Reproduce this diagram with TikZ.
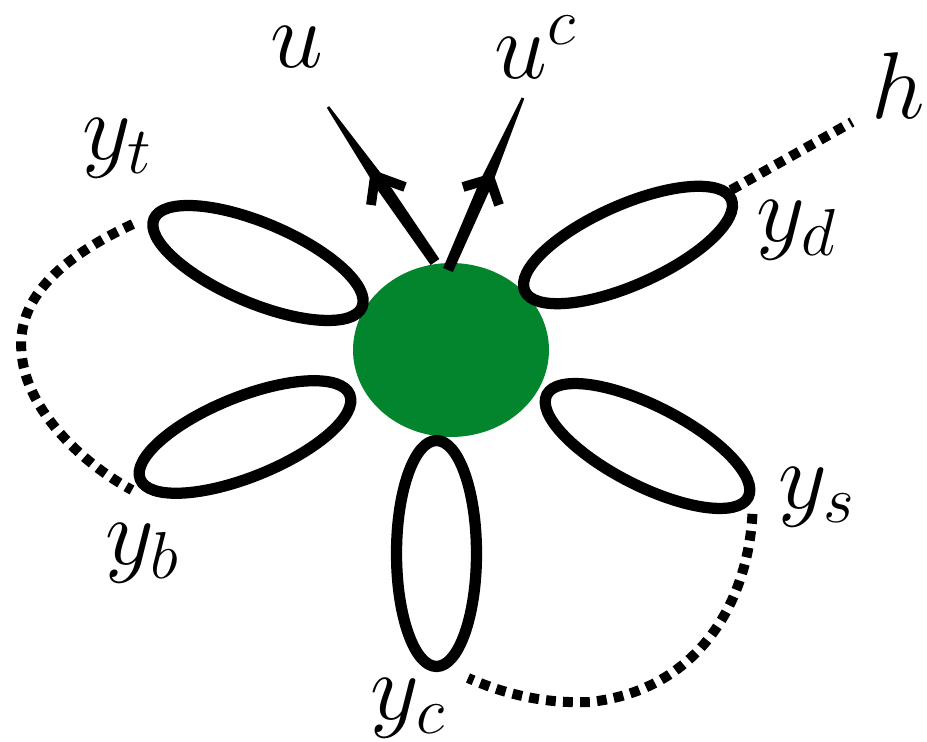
\RequirePackage{fix-cm}
\documentclass[tikz,border=0pt]{standalone}
\usetikzlibrary{shapes.geometric,calc}
\definecolor{gcol}{RGB}{3,133,46}
\tikzset{
  petal/.style={draw, fill=white, ellipse, line width=6.4pt, minimum width=4.52cm, minimum height=1.6cm, inner sep=0pt},
  dots/.style={line width=5.7pt, dash pattern=on 5.6pt off 4.1pt},
  lbl/.style={font=\fontsize{54}{60}\selectfont, inner sep=2pt},
  barb/.style={line width=5.6pt, line join=miter, miter limit=10},
}
\begin{document}
\begin{tikzpicture}[x=0.02cm, y=-0.02cm]
\useasboundingbox (0,0) rectangle (927,742);
% centre
\node[fill=gcol, ellipse, minimum width=3.92cm, minimum height=3.48cm, inner sep=0pt] (g) at (451,350) {};
% petals
\node[petal, rotate=-23] (yt) at (258,263) {};
\node[petal, rotate=22] (yb) at (245,437) {};
\node[petal, rotate=90] (yc) at (436.5,553.5) {};
\node[petal, rotate=-27] (ys) at (647.5,446) {};
\node[petal, rotate=24] (yd) at (628,245) {};
% arrows
\coordinate (ub) at (435,262);
\coordinate (ut) at (328,107);
\coordinate (cb) at (448,270);
\coordinate (ct) at (523,98);
\coordinate (um) at ($(ub)!0.5!(ut)$);
\coordinate (cm) at ($(cb)!0.5!(ct)$);
\fill ($(ub)!3pt!90:(ut)$) -- ($(um)!3.6pt!-90:(ub)$) -- ($(ut)!0.8pt!-90:(ub)$) -- ($(ut)!0.8pt!90:(ub)$) -- ($(um)!3.6pt!90:(ub)$) -- ($(ub)!3pt!-90:(ut)$) -- cycle;
\fill ($(cb)!3pt!90:(ct)$) -- ($(cm)!3.6pt!-90:(cb)$) -- ($(ct)!0.8pt!-90:(cb)$) -- ($(ct)!0.8pt!90:(cb)$) -- ($(cm)!3.6pt!90:(cb)$) -- ($(cb)!3pt!-90:(ct)$) -- cycle;
\coordinate (uv) at (375,176);
\coordinate (cv) at (490,179);
\draw[barb] (371,205) -- (uv) -- (405,187);
\draw[barb] (463,187) -- (cv) -- (499,205);
% dotted connectors
\coordinate (hend) at (852,122);
\coordinate (ycend) at (468,678);
\draw[dots, shorten <=10pt] (yt.west) .. controls (60,258) and (14,300) .. (22,357) .. controls (28,410) and (80,462) .. (132,490);
\draw[dots, shorten <=8pt] (ys.east) .. controls (748,600) and (700,690) .. (590,702) .. controls (540,704) and (500,692) .. (ycend);
\draw[dots] (731,190) -- (hend);
% labels
\node[lbl] (lu) at (297,47) {$u$};
\node[lbl] (luc) at (535,47) {$u^c$};
\node[lbl] (lh) at (898,86) {$h$};
\node[lbl] (lyt) at (117,148) {$y_t$};
\node[lbl] (lyb) at (142,553) {$y_b$};
\node[lbl] (lyc) at (408,708) {$y_c$};
\node[lbl] (lyd) at (796,230) {$y_d$};
\node[lbl] (lys) at (817,497) {$y_s$};
\end{tikzpicture}
\end{document}
